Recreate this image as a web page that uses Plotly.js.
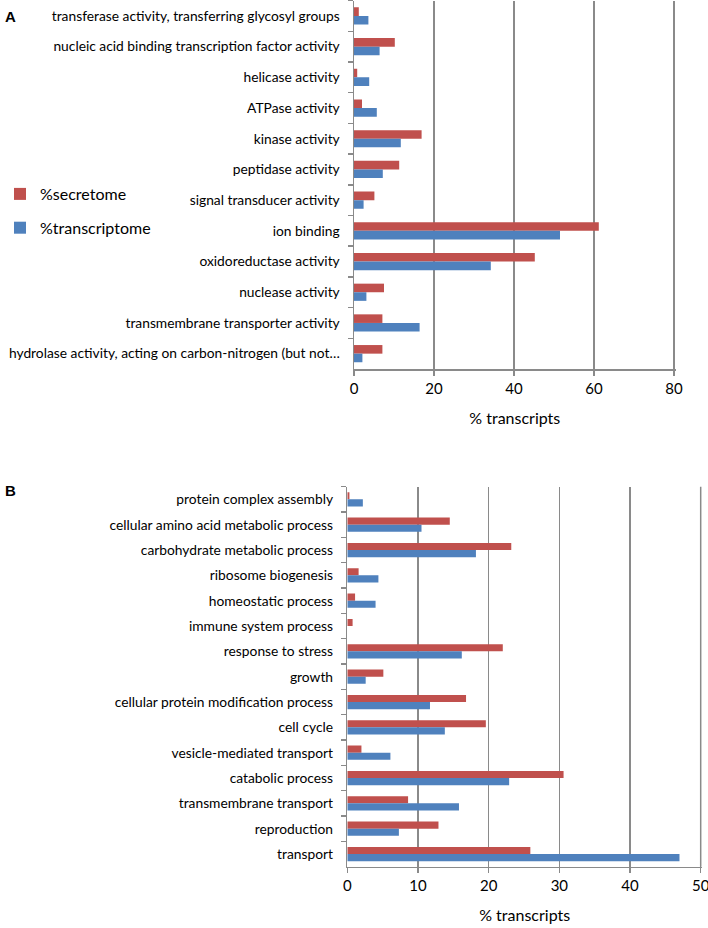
<!DOCTYPE html>
<html>
<head>
<meta charset="utf-8">
<script src="https://cdn.plot.ly/plotly-3.0.1.min.js"></script>
<style>html,body{margin:0;padding:0;background:#fff;overflow:hidden;}#chart{width:708px;height:928px;}</style>
</head>
<body>
<div id="chart"></div>
<script>
// Panel A (molecular function), listed top to bottom
const catsA = [
  "transferase activity, transferring glycosyl groups",
  "nucleic acid binding transcription factor activity",
  "helicase activity",
  "ATPase activity",
  "kinase activity",
  "peptidase activity",
  "signal transducer activity",
  "ion binding",
  "oxidoreductase activity",
  "nuclease activity",
  "transmembrane transporter activity",
  "hydrolase activity, acting on carbon-nitrogen (but not\u2026"
];
const secretomeA =     [1.2, 10.2, 0.8, 2.0, 16.9, 11.3, 5.1, 61.2, 45.2, 7.5, 7.1, 7.1];
const transcriptomeA = [3.6, 6.4, 3.8, 5.7, 11.7, 7.2, 2.4, 51.5, 34.2, 3.1, 16.4, 2.1];

// Panel B (biological process), listed top to bottom
const catsB = [
  "protein complex assembly",
  "cellular amino acid metabolic process",
  "carbohydrate metabolic process",
  "ribosome biogenesis",
  "homeostatic process",
  "immune system process",
  "response to stress",
  "growth",
  "cellular protein modification process",
  "cell cycle",
  "vesicle-mediated transport",
  "catabolic process",
  "transmembrane transport",
  "reproduction",
  "transport"
];
const secretomeB =     [0.3, 14.5, 23.2, 1.6, 1.1, 0.75, 22.0, 5.1, 16.8, 19.6, 2.0, 30.6, 8.6, 12.9, 25.9];
const transcriptomeB = [2.2, 10.5, 18.2, 4.4, 4.0, 0.0, 16.2, 2.6, 11.7, 13.8, 6.1, 22.9, 15.8, 7.3, 47.0];

const ticksA = [0, 20, 40, 60, 80];
const ticksB = [0, 10, 20, 30, 40, 50];

const RED = "#C0504D", BLUE = "#4F81BD";
const FONT = "Lato, 'Open Sans', sans-serif";
const GRID = "#8a8a8a";

const W = 708, H = 928;
const px = v => v / W;
const py = v => 1 - v / H;

const traces = [
  {type: "bar", orientation: "h", name: "%secretome", y: catsA, x: secretomeA,
   marker: {color: RED}, xaxis: "x", yaxis: "y", legendgroup: "s"},
  {type: "bar", orientation: "h", name: "%transcriptome", y: catsA, x: transcriptomeA,
   marker: {color: BLUE}, xaxis: "x", yaxis: "y", legendgroup: "t"},
  {type: "bar", orientation: "h", name: "%secretome", y: catsB, x: secretomeB,
   marker: {color: RED}, xaxis: "x2", yaxis: "y2", showlegend: false, legendgroup: "s"},
  {type: "bar", orientation: "h", name: "%transcriptome", y: catsB, x: transcriptomeB,
   marker: {color: BLUE}, xaxis: "x2", yaxis: "y2", showlegend: false, legendgroup: "t"}
];

const xCommon = {
  showgrid: true, gridcolor: GRID, gridwidth: 1.5,
  zeroline: false, showline: true, linecolor: GRID, linewidth: 1.5,
  ticks: "outside", ticklen: 5, tickcolor: GRID, tickwidth: 1.5,
  tickfont: {family: FONT, size: 15, color: "#000"},
  ticklabeloverflow: "allow",
  fixedrange: true
};
const yCommon = {
  type: "category", autorange: "reversed",
  showgrid: false, zeroline: false, showline: true, linecolor: GRID, linewidth: 1.5,
  ticks: "outside", ticklen: 5, tickcolor: GRID, tickwidth: 1.5, tickson: "boundaries",
  tickfont: {family: FONT, size: 13.8, color: "#000"},
  ticklabelstandoff: 10,
  fixedrange: true
};

const layout = {
  width: W, height: H,
  margin: {l: 0, r: 0, t: 0, b: 0},
  paper_bgcolor: "#fff", plot_bgcolor: "#fff",
  barmode: "group", bargap: 0.44,
  showlegend: true,
  legend: {
    x: 0, y: py(177), xanchor: "left", yanchor: "top",
    font: {family: FONT, size: 16, color: "#000"},
    traceorder: "grouped", tracegroupgap: 10, bgcolor: "rgba(0,0,0,0)"
  },
  xaxis: Object.assign({}, xCommon, {
    domain: [px(354), px(675.6)], anchor: "y", range: [0, 80.4], tickvals: ticksA,
    title: {text: "% transcripts", font: {family: FONT, size: 16, color: "#000"}, standoff: 17}
  }),
  yaxis: Object.assign({}, yCommon, {domain: [py(369), py(0.6)], anchor: "x"}),
  xaxis2: Object.assign({}, xCommon, {
    domain: [px(347.3), px(702.1)], anchor: "y2", range: [0, 50.2], tickvals: ticksB,
    title: {text: "% transcripts", font: {family: FONT, size: 16, color: "#000"}, standoff: 16}
  }),
  yaxis2: Object.assign({}, yCommon, {domain: [py(866.7), py(486.7)], anchor: "x2"}),
  shapes: [
    // outermost grid line of panel B (Plotly omits it at the plot edge)
    {type: "line", xref: "x2", yref: "y2 domain",
     x0: ticksB[ticksB.length - 1], x1: ticksB[ticksB.length - 1], y0: 0, y1: 1,
     line: {color: GRID, width: 1.5}, layer: "below"}
  ],
  annotations: [
    {text: "<b>A</b>", xref: "paper", yref: "paper", x: px(3), y: py(16), xanchor: "left", yanchor: "middle",
     showarrow: false, font: {family: "Liberation Sans, Arial, sans-serif", size: 15, color: "#000"}},
    {text: "<b>B</b>", xref: "paper", yref: "paper", x: px(3), y: py(490), xanchor: "left", yanchor: "middle",
     showarrow: false, font: {family: "Liberation Sans, Arial, sans-serif", size: 15, color: "#000"}}
  ]
};

Plotly.newPlot("chart", traces, layout, {displayModeBar: false, staticPlot: true});
</script>
</body>
</html>
